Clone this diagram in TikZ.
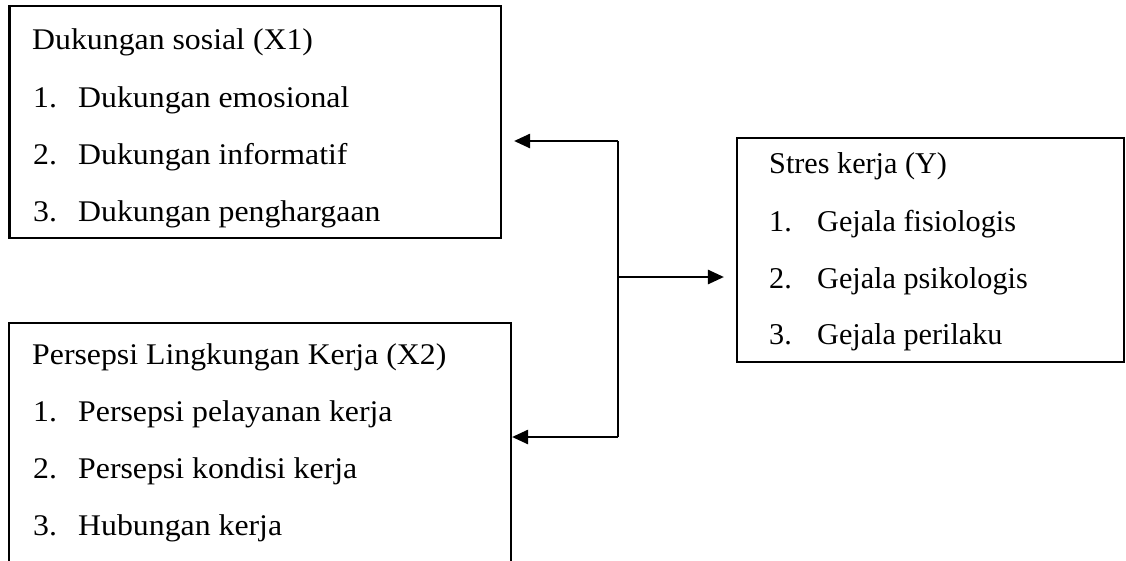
\documentclass[tikz,border=0pt]{standalone}
\usepackage{fontspec}
\setmainfont{Liberation Serif}
\newfontfamily\widefont[FakeStretch=1.06]{Liberation Serif}
\usetikzlibrary{arrows.meta}
\begin{document}
\begin{tikzpicture}[x=1pt,y=-1pt,
  box/.style={draw,line width=2.1pt,inner sep=0pt,rectangle},
  txt/.style={anchor=base west,inner sep=0pt,font=\widefont\fontsize{30}{35}\selectfont},
  rtxt/.style={anchor=base west,inner sep=0pt,font=\fontsize{30.2}{35}\selectfont},
  conn/.style={line width=2.6pt},
  arr/.style={conn,-{Triangle[length=16pt,width=14pt]}}]
\useasboundingbox (0,0) rectangle (1126,560);
\clip (0,0) rectangle (1126,560);
% boxes
\node[box,minimum width=491.5pt,minimum height=232pt] (b1) at (255.25,122) {};
\node[box,minimum width=502pt,minimum height=280pt] (b2) at (260,463) {};
\node[box,minimum width=387pt,minimum height=224pt] (b3) at (930.5,250) {};
% box 1 text
\node[txt] (b1t) at (32,49) {Dukungan sosial (X1)};
\node[txt] (b1n1) at (33,107) {1.};
\node[txt] (b1i1) at (78,107) {Dukungan emosional};
\node[txt] (b1n2) at (33,164) {2.};
\node[txt] (b1i2) at (78,164) {Dukungan informatif};
\node[txt] (b1n3) at (33,221) {3.};
\node[txt] (b1i3) at (78,221) {Dukungan penghargaan};
% box 2 text
\node[txt] (b2t) at (32,364) {Persepsi Lingkungan Kerja (X2)};
\node[txt] (b2n1) at (33,421) {1.};
\node[txt] (b2i1) at (78,421) {Persepsi pelayanan kerja};
\node[txt] (b2n2) at (33,478) {2.};
\node[txt] (b2i2) at (78,478) {Persepsi kondisi kerja};
\node[txt] (b2n3) at (33,535) {3.};
\node[txt] (b2i3) at (78,535) {Hubungan kerja};
% box 3 text
\node[rtxt] (b3t) at (769,173) {Stres kerja (Y)};
\node[rtxt] (b3n1) at (769,231) {1.};
\node[rtxt] (b3i1) at (817,231) {Gejala fisiologis};
\node[rtxt] (b3n2) at (769,288) {2.};
\node[rtxt] (b3i2) at (817,288) {Gejala psikologis};
\node[rtxt] (b3n3) at (769,344) {3.};
\node[rtxt] (b3i3) at (817,344) {Gejala perilaku};
% connectors
\coordinate (j1) at (618,141);
\coordinate (j2) at (618,437);
\coordinate (j3) at (618,277);
\draw[conn] (j1) -- (j2);
\draw[arr,shorten >=12pt] (j1) -- (b1.east |- j1);
\draw[arr] (j2) -- (b2.east |- j2);
\draw[arr,shorten >=12pt] (j3) -- (b3.west |- j3);
\end{tikzpicture}
\end{document}
